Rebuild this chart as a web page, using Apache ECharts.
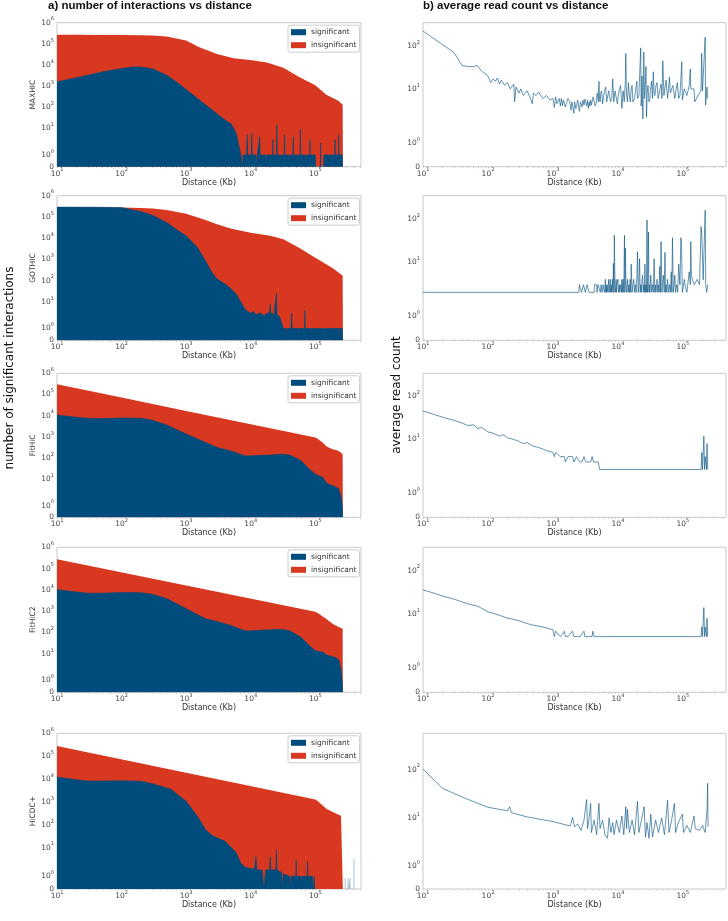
<!DOCTYPE html>
<html>
<head>
<meta charset="utf-8">
<script src="https://cdn.jsdelivr.net/npm/echarts@6/dist/echarts.min.js"></script>
<style>
  html, body { margin: 0; padding: 0; background: #fff; }
  #chart { width: 728px; height: 921px; }
</style>
</head>
<body>
<div id="chart"></div>
<script>
// ---- data: [distance Kb, count] ----
const methods = ['MAXHIC', 'GOTHIC', 'FitHiC', 'FitHiC2', 'HiCDC+'];

const maxhicAll = [[10,2.7e5],[20,2.7e5],[50,2.65e5],[100,2.6e5],[200,2.55e5],[300,2.5e5],[500,2.2e5],[700,1.8e5],[1000,1.45e5],[1600,6.9e4],[3000,3.3e4],[5400,2.1e4],[9800,1.7e4],[17800,1.3e4],[32000,7500],[57000,2600],[100000,1100],[148000,390],[190000,270],[230000,200],[265000,130],[268000,0]];
const maxhicSig = [[10,1600],[20,2500],[50,4700],[100,6800],[150,8100],[200,8000],[300,6700],[500,3300],[700,1600],[1000,690],[1500,260],[2000,130],[3000,50],[4000,25],[5000,16],[6000,5.6],[6500,1.9],[7000,1.1],[7400,0],[7600,1],[8600,1],[8800,5],[9000,1],[10200,1],[10400,6],[10600,1],[12000,1],[12200,0],[12600,1],[13800,4],[14000,1],[17000,1],[17300,0],[17700,1],[21800,1],[22000,3],[22200,1],[25000,1],[25400,15],[25800,1],[28000,1],[28300,0],[28700,1],[33000,1],[33400,5],[33800,1],[38000,1],[38400,0],[38900,1],[45000,1],[45500,4],[46000,1],[52000,1],[52500,0],[53000,1],[58000,1],[58600,9],[59200,1],[70000,1],[70800,0],[71600,1],[82000,1],[82800,3],[83600,1],[100000,1],[101000,0],[120000,0],[121000,2],[122000,0],[135000,0],[136000,1],[160000,1],[161500,0],[163000,1],[200000,1],[202000,3],[204000,1],[228000,1],[230000,5],[232000,1],[262000,1],[264000,0]];

const gothicAll = [[10,2.9e5],[100,2.8e5],[200,2.6e5],[300,2.5e5],[500,2.1e5],[1000,1.4e5],[2000,7.2e4],[3000,4.5e4],[5000,2.8e4],[10000,1.8e4],[20000,1.3e4],[32000,9000],[56000,3500],[100000,1200],[190000,370],[265000,170],[268000,0]];
const gothicSig = [[10,2.9e5],[50,2.85e5],[100,2.75e5],[150,2.1e5],[200,1.8e5],[300,1.2e5],[500,5.4e4],[700,2.6e4],[1000,1.3e4],[1500,3600],[2000,830],[2500,250],[3000,120],[4000,70],[5000,40],[6000,23],[7000,10],[8000,5],[9000,3.5],[10000,2.9],[11000,3.5],[12000,2.5],[14000,3],[16000,2.2],[18000,3],[19500,3],[20000,8],[20500,3],[23000,2.5],[24500,2.5],[25000,25],[25500,2.5],[28000,2],[30000,1.5],[32000,1],[35000,1],[35500,0],[36000,1],[42000,1],[43000,3],[44000,1],[55000,1],[55600,0],[56200,1],[68000,1],[69000,4],[70000,1],[85000,1],[86000,0],[87000,1],[110000,1],[111000,0],[112000,1],[140000,1],[141500,0],[143000,1],[180000,1],[182000,0],[184000,1],[230000,1],[233000,0],[236000,1],[262000,1],[265000,0]];

const fithicAll = [[10,3.0e5],[100,7.1e4],[1000,1.66e4],[10000,3900],[100000,910],[110000,780],[130000,540],[150000,350],[180000,265],[220000,225],[250000,180],[265000,140],[267000,0]];
const fithicSig = [[10,10700],[20,8300],[30,7500],[50,7200],[100,7700],[200,7500],[300,6000],[500,3600],[1000,1350],[2000,540],[3000,310],[5000,210],[8000,125],[10000,125],[20000,135],[30000,150],[40000,135],[60000,75],[80000,30],[100000,17],[130000,12],[150000,6.3],[200000,4.4],[230000,3.5],[250000,1.8],[262000,0.9],[265000,0]];

const fithic2All = [[10,2.76e5],[1000,1.6e4],[100000,930],[112000,780],[130000,560],[150000,420],[190000,240],[230000,180],[265000,150],[267000,0]];
const fithic2Sig = [[10,10400],[20,7900],[30,7000],[50,7000],[100,7600],[200,7400],[300,6200],[500,3900],[1000,1300],[2000,440],[3000,330],[5000,210],[8000,120],[10000,120],[20000,135],[30000,140],[40000,120],[60000,60],[80000,25],[100000,14],[130000,12],[150000,8.7],[200000,6.8],[230000,5.3],[250000,2.1],[260000,1],[265000,0]];

const hicdcAll = [[10,2.76e5],[1000,1.86e4],[100000,1270],[110000,1070],[130000,690],[150000,490],[200000,330],[250000,250],[265000,230],[267000,0]];
const hicdcSig = [[10,12200],[20,9300],[30,8200],[50,8200],[100,8500],[200,8000],[300,6200],[500,4100],[600,3400],[700,2300],[1000,1070],[1500,230],[2000,60],[2500,35],[3000,27],[4000,19],[5000,10],[6000,5.8],[7000,2.1],[8000,1.75],[10000,1.6],[11500,1.6],[12000,4.1],[12500,1.5],[15000,1.5],[16000,0],[17000,1.5],[19500,1.5],[20000,4],[20500,1.5],[24500,1.5],[25000,8],[25500,1.5],[30000,1.3],[31000,0],[32000,1.2],[40000,1],[41000,0],[42000,1],[50000,1],[50500,3],[51000,1],[60000,1],[61000,0],[62000,1],[75000,1],[76000,2.5],[77000,1],[90000,1],[92000,0],[96000,1],[98000,0]];
const hicdcExtra = [[290000,0],[291000,0.85],[292000,0],[320000,0],[321000,0.85],[322000,0],[345000,0],[346000,0.85],[347000,0],[395000,0],[397000,3.1],[399000,0]];

// average read count: [distance Kb, mean count]
const maxhicRead = [[10,221],[30,70],[40,35],[50,33],[60,33],[68,35],[80,26],[100,20],[110,14],[120,17],[130,15],[140,18],[150,13],[160,16],[180,12],[200,14],[220,10],[250,13],[257,5],[270,11],[300,8],[320,10],[350,7],[400,9],[450,6],[480,4.5],[500,8],[550,7],[600,8.5],[700,6],[800,7],[900,5.5],[1000,6],[1050,3.7],[1100,6.5],[1150,4.5],[1200,5],[1250,6],[1300,4],[1350,6],[1400,4],[1450,5.5],[1500,5.5],[1550,3.8],[1600,4.5],[1700,6],[1800,5.2],[1850,4],[1900,3.2],[1950,5],[2000,5],[2050,3.5],[2100,2.7],[2150,5],[2200,5],[2250,3.5],[2300,4],[2400,5.5],[2500,5.5],[2550,3],[2600,2.7],[2650,5],[2700,5],[2800,3.8],[2900,5.5],[3000,4.2],[3100,5.8],[3200,6],[3300,4],[3400,5.5],[3500,3.5],[3600,5],[3700,4],[3800,5.5],[3900,4.2],[4000,4.5],[4150,6.5],[4300,7],[4450,4],[4600,4.5],[4800,8],[5000,5],[5100,15],[5200,6],[5300,5],[5450,8],[5600,9],[5800,4.5],[6000,5],[6200,9],[6500,11],[6700,5],[7000,5.5],[7200,9],[7500,10],[7700,5],[8000,6],[8300,17],[8600,5],[9000,9],[9500,10],[9800,4.5],[10000,6],[10500,10],[11000,12],[11500,3.5],[12000,9],[12500,5],[13000,15],[13200,67],[13500,8],[14000,5],[14500,14],[15000,7],[15500,5],[16000,10],[16500,12],[17000,5],[18000,6],[19000,11],[19500,15],[20000,6],[21000,7],[22400,90],[22800,4],[23500,20],[24200,2],[25000,72],[25600,6],[26300,12],[27000,33],[27500,2.2],[28200,8],[29000,12],[30000,5],[31000,6],[32000,11],[33000,15],[34000,6],[35000,25],[36000,8],[37000,7],[38500,12],[40000,14],[41500,6],[43000,6],[44500,10],[46000,13],[47500,6],[49000,45],[51000,7],[53000,11],[55000,16],[58000,6],[60000,10],[62000,19],[64000,8],[67000,10],[70000,12],[75000,6],[78000,9],[82000,14],[86000,6],[90000,7],[96000,43],[98000,5.5],[105000,10],[115000,7],[125000,12],[130000,29],[132000,10],[148000,10],[152000,5],[170000,7],[190000,9],[194000,67],[200000,9],[210000,9],[220000,160],[223000,4.2],[235000,11],[238000,6]];
const gothicRead = [[10,2],[2500,2],[2550,3],[2700,3],[2750,2],[2900,2],[2950,3],[3100,3],[3150,2],[3300,2],[3350,3],[3550,3],[3600,2],[4300,2],[4350,3],[4700,3],[4750,2],[4900,2],[4950,3],[5300,3],[5350,2],[5500,3],[5700,2],[5900,3],[6000,3],[6200,2],[6400,4],[6500,2],[6600,3],[6700,2],[6800,3],[7000,2],[7200,4],[7300,2],[7500,3],[7600,4],[7700,2],[7900,3],[8000,2],[8200,4],[8400,2],[8500,9.4],[8700,2],[8800,42],[9000,3],[9200,2],[9400,4],[9500,2],[9700,3],[10000,4],[10200,2],[10500,3],[10700,2],[11000,3],[11300,2],[11500,4],[11700,2],[12000,4],[12300,2],[12600,42],[12800,2],[13000,21],[13300,3],[13600,2],[14000,4],[14400,2],[14700,3],[15000,2],[15400,4],[15700,2],[16000,9],[16500,2],[17000,3],[17500,4],[18000,2],[18500,3],[19000,2],[19500,4],[20000,17.5],[20500,2],[21000,3],[21500,12],[22000,2],[22500,3],[23000,2],[23500,4],[24000,5],[24500,2],[25000,3],[25500,2],[26000,9],[26500,2],[27000,3],[27500,2],[28000,95],[28500,2],[29000,3],[29500,50],[30000,2],[30500,3],[31000,2],[32000,5],[33000,2],[34000,3],[35000,2],[36000,12],[37000,2],[37500,3],[38500,2],[40000,4],[41000,2],[42000,3],[43000,2],[44000,8],[45000,2],[46000,30],[47500,2],[48500,3],[50000,5],[51500,2],[53000,17],[54000,2],[55000,3],[56500,2],[58000,4],[60000,2],[62000,3],[64000,2],[66000,6],[67500,2],[69000,37],[71000,2],[73000,3],[75000,5],[77000,2],[80000,3],[83000,2],[86000,9],[90000,3],[93000,37],[95000,27],[98000,2],[105000,4],[110000,2.5],[115000,2],[125000,6],[130000,3],[132000,30],[135000,5.2],[140000,3.9],[150000,3],[165000,4],[180000,3],[190000,67],[195000,45],[205000,3.9],[220000,160],[224000,3],[232000,2],[240000,3]];
const fithicRead = [[10,46],[15,38],[20,33],[30,28],[40,24],[50,21],[60,22],[70,18],[80,19],[100,15],[120,14],[150,12],[170,13],[200,11],[250,10],[300,9],[350,8],[400,8.5],[500,7],[600,6.5],[700,6],[800,5.5],[1000,5],[1050,4],[1100,5],[1300,4],[1500,4],[1550,3],[1700,4],[2000,4],[2100,3],[2300,4],[2600,3],[2800,3],[3000,4],[3200,3],[3800,3],[4000,4],[4200,3],[5000,3],[5200,2],[190000,2],[195000,5],[200000,2],[210000,12],[215000,2],[220000,4],[230000,2],[235000,8],[240000,2]];
const fithic2Read = [[10,36],[15,30],[20,26],[30,22],[40,19],[50,17],[70,15],[100,11.2],[130,10],[160,9],[200,8],[250,7.5],[300,7],[400,6],[500,5.5],[700,5],[1000,4.3],[1050,3],[1100,4],[1300,3],[1500,4],[1550,3],[1700,3],[2000,4],[2100,3],[2600,3],[3000,4],[3100,3],[4000,3],[4100,4],[4300,3],[5200,3],[190000,3],[195000,5],[200000,3],[210000,14],[215000,3],[220000,5],[230000,3],[235000,8],[240000,3]];
const hicdcRead = [[10,102],[20,41],[40,27],[70,20],[100,16.6],[200,14],[215,17],[230,12.8],[400,10.5],[1000,8.4],[1850,6.8],[2000,10.3],[2150,6.6],[2400,7.5],[2700,5.5],[3000,9],[3300,24],[3400,6],[3600,10],[3800,20],[3900,5],[4300,9],[4700,4.5],[5100,20],[5300,6],[5800,9],[6300,4.5],[6900,3.8],[7300,10],[7800,5],[8300,8],[8700,4.5],[9500,9],[10500,5],[11500,11],[12300,4.5],[13200,17],[13600,6],[14000,15],[15000,5],[16500,9],[18000,4.5],[20000,22],[21000,5],[23000,9],[25300,17],[26500,4],[28000,8],[30000,3.8],[32000,12],[34000,4],[38000,9],[42000,5],[47000,10],[52000,4.5],[58000,23],[61000,5],[67000,9],[74000,20],[77000,5],[85000,8],[98000,12],[102000,5],[115000,7],[130000,5],[148000,11],[155000,6],[180000,5.5],[200000,7],[220000,5],[235000,15],[240000,52],[244000,6.6]];

const yTicksLeft = [0, 1, 10, 100, 1e3, 1e4, 1e5, 1e6];
const yTicksRight = [0, 1, 10, 100];
const xTicks = [10, 100, 1000, 10000, 100000];

const sigAll = [maxhicSig, gothicSig, fithicSig, fithic2Sig, hicdcSig];
const totAll = [maxhicAll, gothicAll, fithicAll, fithic2All, hicdcAll];
const reads = [maxhicRead, gothicRead, fithicRead, fithic2Read, hicdcRead];

// ---- symlog y scale like matplotlib: linear below linthresh, log above ----
const SYM_A = { lt: 2, ls: 1 / (1 - 1 / 10) };   // linthresh 2, linscale 1
const SYM_B = { lt: 1, ls: 0.47 };               // last right panel
function symlog(v, p) { return v <= p.lt ? v / p.lt * p.ls : p.ls + Math.log10(v / p.lt); }
function pts(arr, p) { return arr.map(q => [q[0], symlog(q[1], p)]); }

const BLUE = '#004c7c', RED = '#d8381f';
const tops = [22.7, 195.7, 373.3, 547.3, 733.3];
const heights = [144, 144.6, 144, 145, 155.7];
const rightTop = [3.35, 3.35, 3.35, 3.35, 3.22];

const minorTicks = [];
for (let k = 1; k <= 5; k++) for (let m = 1; m <= 9; m++) minorTicks.push(m * Math.pow(10, k));

const tickFont = { fontSize: 7.5, color: '#444', fontFamily: 'DejaVu Sans' };
const rich = {
  b: { fontSize: 7.5, color: '#444', fontFamily: 'DejaVu Sans', lineHeight: 12 },
  s: { fontSize: 5, color: '#444', fontFamily: 'DejaVu Sans', verticalAlign: 'top', lineHeight: 6 }
};
function powLabel(k) { return '{b|10}{s|' + k + '}'; }

function yLabel(ticks, p) {
  return function (val) {
    let best = 0;
    ticks.forEach((t, i) => { if (Math.abs(symlog(t, p) - val) < Math.abs(symlog(ticks[best], p) - val)) best = i; });
    return ticks[best] === 0 ? '{b|0}' : powLabel(Math.round(Math.log10(ticks[best])));
  };
}

const grid = [], xAxis = [], yAxis = [], series = [], legend = [];

for (let i = 0; i < 5; i++) {
  [[57, 304, 5.1e5], [423, 303, 4.6e5]].forEach((g, side) => {
    const idx = grid.length;
    const p = (side === 1 && i === 4) ? SYM_B : SYM_A;
    grid.push({ left: g[0], top: tops[i], width: g[1], height: heights[i], show: true, borderColor: '#c8c8c8', borderWidth: 1 });
    xAxis.push({
      type: 'log', logBase: 10, min: 10, max: g[2], gridIndex: idx,
      name: 'Distance (Kb)', nameLocation: 'middle', nameGap: 10,
      nameTextStyle: { fontSize: 8, color: '#333', fontFamily: 'DejaVu Sans' },
      axisLine: { show: false },
      axisTick: { show: true, customValues: minorTicks, length: 1.5, lineStyle: { color: '#ccc' } },
      axisLabel: { customValues: xTicks, margin: 1, formatter: v => powLabel(Math.round(Math.log10(v))), rich: rich, ...tickFont },
      splitLine: { show: false }
    });
    const ticks = side === 0 ? yTicksLeft : yTicksRight;
    yAxis.push({
      type: 'value', min: 0, max: side === 0 ? symlog(1e6, p) : rightTop[i], gridIndex: idx,
      name: side === 0 ? methods[i] : '', nameLocation: 'middle', nameGap: 15, nameRotate: 90,
      nameTextStyle: { fontSize: 7.5, color: '#333', fontFamily: 'DejaVu Sans' },
      axisLine: { show: false }, axisTick: { show: false },
      axisLabel: { customValues: ticks.map(t => symlog(t, p)), margin: 3, formatter: yLabel(ticks, p), rich: rich, ...tickFont },
      splitLine: { show: false }
    });
    if (side === 0) {
      series.push({
        name: 'insignificant', type: 'line', xAxisIndex: idx, yAxisIndex: idx, data: pts(totAll[i], p),
        showSymbol: false, color: RED, lineStyle: { width: 0 }, areaStyle: { color: RED, opacity: 1 }
      });
      series.push({
        name: 'significant', type: 'line', xAxisIndex: idx, yAxisIndex: idx, data: pts(sigAll[i], p),
        showSymbol: false, color: BLUE, lineStyle: { width: 0.6, color: BLUE }, areaStyle: { color: BLUE, opacity: 1 }
      });
      if (i === 4) {
        series.push({
          name: 'extra', type: 'line', xAxisIndex: idx, yAxisIndex: idx, data: pts(hicdcExtra, p),
          showSymbol: false, color: '#a9c3d5', lineStyle: { width: 0.6, color: '#a9c3d5' }, areaStyle: { color: '#a9c3d5', opacity: 1 }
        });
      }
      legend.push({
        data: ['significant', 'insignificant'], orient: 'vertical', left: 288, top: tops[i] + 2.5,
        icon: 'rect', itemWidth: 15, itemHeight: 6, itemGap: 5,
        textStyle: { fontSize: 7.5, color: '#333', fontFamily: 'DejaVu Sans' },
        borderColor: '#cccccc', borderWidth: 1, borderRadius: 2, padding: [3, 3, 3, 3],
        backgroundColor: 'rgba(255,255,255,0.85)', selectedMode: false
      });
    } else {
      series.push({
        name: 'read ' + methods[i], type: 'line', xAxisIndex: idx, yAxisIndex: idx, data: pts(reads[i], p),
        showSymbol: false, lineStyle: { width: 0.8, color: '#0b5685', opacity: 0.8 }
      });
    }
  });
}

const chart = echarts.init(document.getElementById('chart'));
chart.setOption({
  animation: false,
  grid: grid, xAxis: xAxis, yAxis: yAxis, series: series, legend: legend,
  graphic: [
    { type: 'text', left: 48, top: 0, style: { text: 'a) number of interactions vs distance', font: 'bold 11.5px "Liberation Sans"', fill: '#111' } },
    { type: 'text', left: 423, top: 0, style: { text: 'b) average read count vs distance', font: 'bold 11.5px "Liberation Sans"', fill: '#111' } },
    { type: 'text', x: 10, y: 368, rotation: Math.PI / 2, style: { text: 'number of significant interactions', font: '12px "DejaVu Sans"', fill: '#111', align: 'center', verticalAlign: 'middle' } },
    { type: 'text', x: 397, y: 395, rotation: Math.PI / 2, style: { text: 'average read count', font: '12px "DejaVu Sans"', fill: '#111', align: 'center', verticalAlign: 'middle' } }
  ]
});
</script>
</body>
</html>
